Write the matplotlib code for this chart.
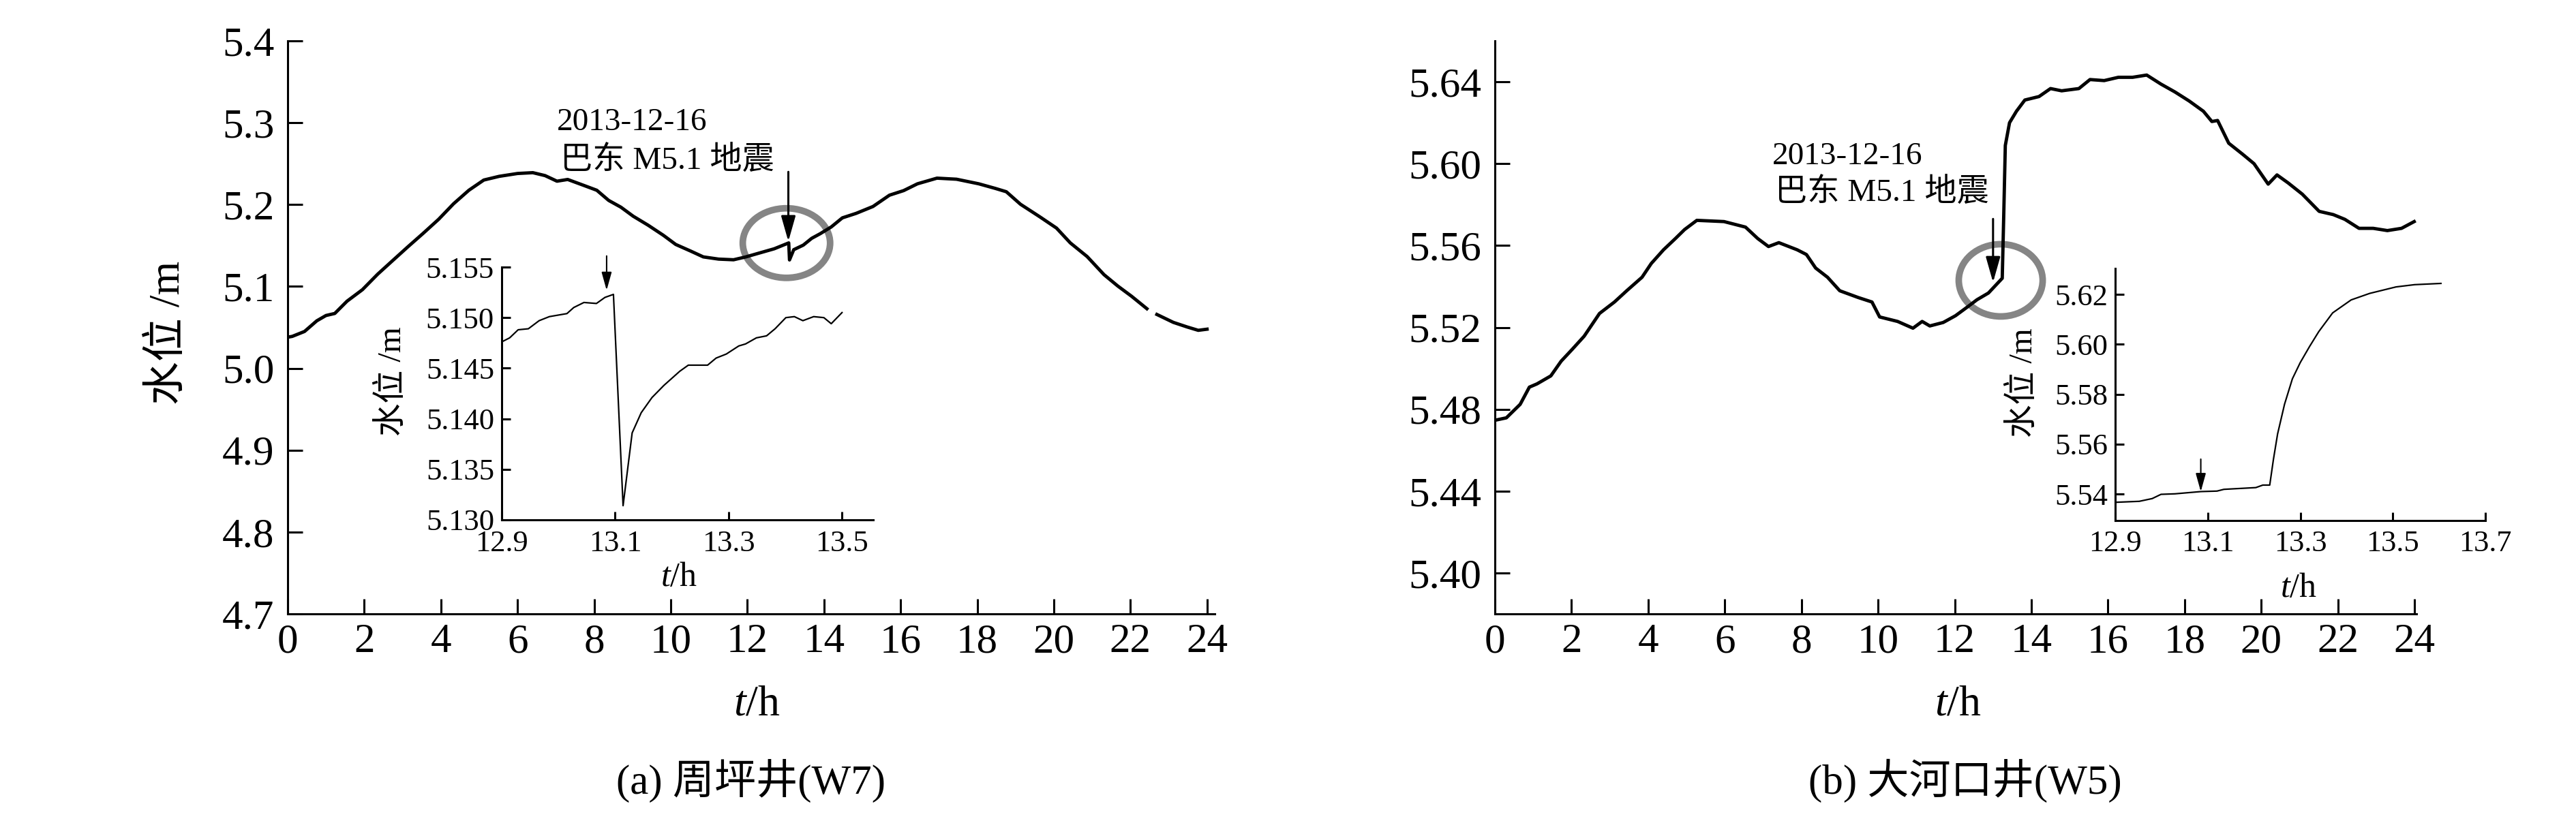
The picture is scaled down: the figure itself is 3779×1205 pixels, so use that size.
import numpy as np
import matplotlib
matplotlib.use("Agg")
import matplotlib.pyplot as plt
from matplotlib.patches import Ellipse

# water level of two wells on 2013-12-16 (Badong M5.1 earthquake)

# (a) Zhouping well W7, whole day (nan = gap in the record)
t_a = [0.0, 0.12, 0.44, 0.76, 1.0, 1.23, 1.55, 1.95, 2.35, 2.75, 3.14, 3.54, 3.94,
       4.33, 4.73, 5.12, 5.52, 6.0, 6.40, 6.72, 7.03, 7.31, 7.75, 8.07, 8.38, 8.70,
       9.02, 9.41, 9.81, 10.13, 10.53, 10.85, 11.25, 11.64, 11.96, 12.28, 12.70,
       13.08, 13.10, 13.21, 13.46, 13.68, 13.90, 14.19, 14.48, 14.84, 15.28, 15.71,
       16.08, 16.44, 16.95, 17.46, 18.04, 18.47, 18.76, 19.13, 19.63, 20.07, 20.43,
       20.87, 21.31, 21.67, 22.03, 22.43, 22.56, 22.69, 23.12, 23.48, 23.77, 24.0]
h_a = [5.038, 5.039, 5.045, 5.058, 5.0645, 5.067, 5.082, 5.096, 5.115, 5.132, 5.1485,
       5.165, 5.182, 5.201, 5.2175, 5.230, 5.2345, 5.238, 5.239, 5.2354, 5.2286,
       5.2307, 5.2231, 5.2175, 5.2051, 5.1968, 5.1858, 5.1748, 5.1624, 5.1513, 5.143,
       5.1361, 5.1334, 5.1326, 5.1361, 5.1404, 5.1460, 5.1532, 5.1324, 5.1449,
       5.1505, 5.1588, 5.1644, 5.1727, 5.1838, 5.1893, 5.1977, 5.2115, 5.2171,
       5.2254, 5.2323, 5.2310, 5.2254, 5.2198, 5.2157, 5.2004, 5.1852, 5.1713,
       5.1532, 5.1365, 5.1144, 5.1005, 5.088, 5.0728, np.nan, 5.0658, 5.0561,
       5.0505, 5.0464, 5.0478]

# (a) zoom around the quake
ti_a = [12.9, 12.914, 12.929, 12.947, 12.966, 12.984, 13.015, 13.027, 13.045, 13.067,
        13.082, 13.097, 13.114, 13.130, 13.146, 13.165, 13.186, 13.214, 13.229,
        13.263, 13.278, 13.296, 13.318, 13.330, 13.349, 13.367, 13.382, 13.401,
        13.416, 13.431, 13.450, 13.468, 13.481, 13.500]
hi_a = [5.1476, 5.1480, 5.1488, 5.1489, 5.1497, 5.1501, 5.1504, 5.1510, 5.1515,
        5.1514, 5.1520, 5.1523, 5.1314, 5.1386, 5.1406, 5.1421, 5.1433, 5.1447,
        5.1453, 5.1453, 5.1460, 5.1464, 5.1472, 5.1474, 5.1480, 5.1482, 5.1489,
        5.1500, 5.1501, 5.1497, 5.1501, 5.1500, 5.1494, 5.1505]

# (b) Dahekou well W5, whole day
t_b = [0.0, 0.30, 0.66, 0.90, 1.10, 1.46, 1.73, 2.01, 2.33, 2.73, 3.12, 3.44, 3.84,
       4.08, 4.40, 4.71, 4.95, 5.27, 5.98, 6.54, 6.86, 7.14, 7.41, 7.89, 8.13, 8.37,
       8.68, 9.00, 9.48, 9.84, 10.04, 10.51, 10.91, 11.15, 11.35, 11.70, 12.02,
       12.34, 12.58, 12.88, 13.10, 13.24, 13.28, 13.32, 13.43, 13.61, 13.83, 14.20,
       14.50, 14.79, 15.24, 15.53, 15.90, 16.27, 16.64, 17.01, 17.38, 17.75, 18.12,
       18.49, 18.71, 18.86, 19.15, 19.52, 19.81, 20.18, 20.41, 20.70, 21.07, 21.51,
       21.88, 22.18, 22.55, 22.92, 23.29, 23.66, 23.99]
h_b = [5.4746, 5.4758, 5.4824, 5.4908, 5.4924, 5.4963, 5.5035, 5.5091, 5.5157,
       5.5268, 5.5324, 5.5379, 5.5445, 5.5512, 5.5579, 5.5634, 5.5678, 5.5723,
       5.5717, 5.5690, 5.5634, 5.5595, 5.5614, 5.5579, 5.5556, 5.5490, 5.5445,
       5.5379, 5.5346, 5.5324, 5.5251, 5.5229, 5.5196, 5.5229, 5.5207, 5.5224,
       5.5257, 5.5301, 5.5335, 5.5368, 5.5412, 5.5440, 5.5756, 5.6089, 5.6200,
       5.6256, 5.6311, 5.6328, 5.6367, 5.6356, 5.6367, 5.6411, 5.6406, 5.6422,
       5.6422, 5.6433, 5.6389, 5.6350, 5.6306, 5.6256, 5.6206, 5.6211, 5.6100,
       5.6045, 5.6000, 5.5900, 5.5945, 5.5906, 5.5851, 5.5767, 5.5751, 5.5728,
       5.5684, 5.5684, 5.5673, 5.5684, 5.5717]

# (b) zoom around the quake
ti_b = [12.9, 12.952, 12.98, 12.999, 13.029, 13.085, 13.12, 13.135, 13.204, 13.219,
        13.234, 13.242, 13.251, 13.266, 13.283, 13.30, 13.32, 13.34, 13.37, 13.41,
        13.45, 13.507, 13.547, 13.604]
hi_b = [5.5367, 5.5371, 5.5382, 5.5399, 5.5401, 5.5410, 5.5412, 5.5419, 5.5426,
        5.5436, 5.5436, 5.5539, 5.5641, 5.5760, 5.5862, 5.5927, 5.5991, 5.6051,
        5.6126, 5.6178, 5.6204, 5.6230, 5.6239, 5.6244]

quake_label = ["2013-12-16", "巴东 M5.1 地震"]
captions = ["(a) 周坪井(W7)", "(b) 大河口井(W5)"]

plt.rcParams['font.family'] = ['Liberation Serif', 'Noto Sans CJK SC']
plt.rcParams['mathtext.fontset'] = 'custom'
plt.rcParams['mathtext.it'] = 'Liberation Serif:italic'
plt.rcParams['mathtext.rm'] = 'Liberation Serif'

W, H = 3780, 1205
fig = plt.figure(figsize=(W / 100, H / 100), dpi=100)


def rect(x0, x1, y0, y1):
    # pixel box -> figure fractions
    return [x0 / W, 1 - y1 / H, (x1 - x0) / W, (y1 - y0) / H]


def px(x, y):
    return x / W, 1 - y / H


def style(ax, size, length, pad_x, pad_y):
    for s in ['top', 'right']:
        ax.spines[s].set_visible(False)
    for s in ['left', 'bottom']:
        ax.spines[s].set_linewidth(2.2)
    ax.patch.set_alpha(0)
    ax.tick_params(direction='in', length=length, width=2.2, labelsize=size)
    ax.tick_params(axis='x', pad=pad_x)
    ax.tick_params(axis='y', pad=pad_y)


ax_a = fig.add_axes(rect(422, 1782, 60, 901))
ax_b = fig.add_axes(rect(2193, 3545, 60, 901))
in_a = fig.add_axes(rect(736, 1281, 392, 763))
in_b = fig.add_axes(rect(3103, 3646, 394, 764))

# main panels
ax_a.plot(t_a, h_a, color='black', lw=3.5)
ax_a.set_xlim(0, 24.2)
ax_a.set_ylim(4.7, 5.4)
ax_a.set_xticks(range(0, 25, 2))
ax_a.set_yticks(np.arange(4.7, 5.41, 0.1))
ax_a.yaxis.set_major_formatter('{x:.1f}')
style(ax_a, 44, 16, 10, 14)

ax_b.plot(t_b, h_b, color='black', lw=3.5)
ax_b.set_xlim(0, 24.05)
ax_b.set_ylim(5.38, 5.66)
ax_b.set_xticks(range(0, 25, 2))
ax_b.set_yticks(np.arange(5.40, 5.65, 0.04))
ax_b.yaxis.set_major_formatter('{x:.2f}')
style(ax_b, 44, 16, 10, 14)

# circles and arrows on the main panels
ax_a.add_patch(Ellipse((13.02, 5.153), 2.28, 0.085, fill=False,
                       edgecolor='#858585', lw=7))
ax_b.add_patch(Ellipse((13.2, 5.543), 2.19, 0.0353, fill=False,
                       edgecolor='#858585', lw=7))
big_arrow = dict(arrowstyle='-|>,head_length=0.6,head_width=0.17',
                 mutation_scale=38, color='black', lw=2.2, shrinkA=0, shrinkB=0)
ax_a.annotate('', xy=(13.07, 5.155), xytext=(13.07, 5.240), arrowprops=big_arrow)
ax_b.annotate('', xy=(13.0, 5.542), xytext=(13.0, 5.573), arrowprops=big_arrow)

ax_a.text(7.03, 5.291, quake_label[0], fontsize=34, ha='left', va='baseline')
ax_a.text(7.12, 5.243, quake_label[1], fontsize=34, ha='left', va='baseline')
ax_b.text(7.24, 5.5997, quake_label[0], fontsize=34, ha='left', va='baseline')
ax_b.text(7.31, 5.5815, quake_label[1], fontsize=34, ha='left', va='baseline')

# insets
in_a.plot(ti_a, hi_a, color='black', lw=1.6)
in_a.set_xlim(12.9, 13.555)
in_a.set_ylim(5.130, 5.155)
in_a.set_xticks([12.9, 13.1, 13.3, 13.5])
in_a.set_yticks(np.arange(5.130, 5.1551, 0.005))
in_a.yaxis.set_major_formatter('{x:.3f}')
in_a.xaxis.set_major_formatter('{x:.1f}')
style(in_a, 32, 9, 11, 8)

in_b.plot(ti_b, hi_b, color='black', lw=1.6)
in_b.set_xlim(12.9, 13.7)
in_b.set_ylim(5.5294, 5.6304)
in_b.set_xticks([12.9, 13.1, 13.3, 13.5, 13.7])
in_b.set_yticks(np.arange(5.54, 5.621, 0.02))
in_b.yaxis.set_major_formatter('{x:.2f}')
in_b.xaxis.set_major_formatter('{x:.1f}')
style(in_b, 32, 9, 10, 8)

small_arrow = dict(arrowstyle='-|>,head_length=0.9,head_width=0.25',
                   mutation_scale=18, color='black', lw=1.5, shrinkA=0, shrinkB=0)
in_a.annotate('', xy=(13.085, 5.1527), xytext=(13.085, 5.1561),
              arrowprops=small_arrow, annotation_clip=False)
in_b.annotate('', xy=(13.085, 5.541), xytext=(13.085, 5.554),
              arrowprops=small_arrow, annotation_clip=False)

# axis labels and captions
fig.text(*px(247, 488), '水位 /m', fontsize=46, rotation=90, ha='center', va='center')
fig.text(*px(575, 560), '水位 /m', fontsize=35, rotation=90, ha='center', va='center')
fig.text(*px(2968, 562), '水位 /m', fontsize=35, rotation=90, ha='center', va='center')
fig.text(*px(1110, 1035), r'$\mathit{t}$/h', fontsize=46, ha='center', va='center')
fig.text(*px(2872, 1035), r'$\mathit{t}$/h', fontsize=46, ha='center', va='center')
fig.text(*px(996, 848), r'$\mathit{t}$/h', fontsize=36, ha='center', va='center')
fig.text(*px(3372, 864), r'$\mathit{t}$/h', fontsize=36, ha='center', va='center')
fig.text(*px(1101, 1146), captions[0], fontsize=44, ha='center', va='center')
fig.text(*px(2883, 1146), captions[1], fontsize=44, ha='center', va='center')

fig.savefig('out.png', dpi=100, facecolor='white')
